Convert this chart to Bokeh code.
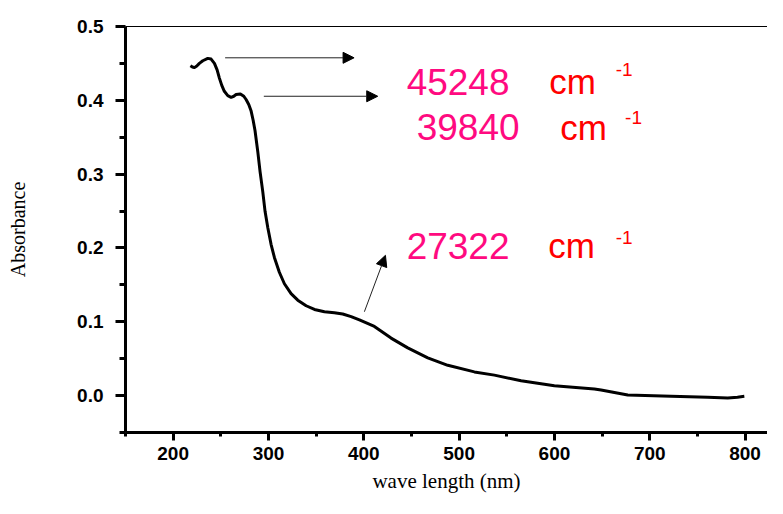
from bokeh.plotting import figure
from bokeh.models import LinearAxis, FixedTicker, Range1d, Arrow, NormalHead, Label
from bokeh.embed import file_html
from bokeh.resources import INLINE

# --- data ---
wavelength = [218.1, 220.2, 222.3, 224.8, 227.5, 231.1, 236.3, 239.8, 243.3, 246.1,
              248.5, 251.0, 253.7, 257.3, 260.8, 263.6, 266.0, 270.5, 274.1, 276.5,
              279.3, 281.8, 283.9, 285.9, 288.8, 291.2, 294.0, 296.4, 299.3, 302.7,
              306.2, 311.4, 316.7, 323.7, 330.7, 339.5, 348.2, 358.7, 369.1, 377.9,
              386.7, 395.4, 411.1, 428.6, 446.1, 467.1, 488.1, 516.0, 537.0, 565.0,
              599.9, 641.9, 648.9, 676.9, 722.3, 760.8, 781.8, 792.0, 799.2]
absorbance = [0.4469, 0.4452, 0.4443, 0.4465, 0.4501, 0.4536, 0.4568, 0.4559, 0.4501, 0.4412,
              0.4301, 0.4202, 0.4122, 0.4064, 0.4041, 0.4055, 0.4078, 0.4087, 0.4055, 0.4011,
              0.3944, 0.3854, 0.3730, 0.3587, 0.3301, 0.3031, 0.2763, 0.2496, 0.2273, 0.2050,
              0.1872, 0.1671, 0.1515, 0.1381, 0.1293, 0.1217, 0.1167, 0.1136, 0.1123, 0.1106,
              0.1070, 0.1025, 0.0936, 0.0779, 0.0646, 0.0512, 0.0410, 0.0321, 0.0277, 0.0201,
              0.0134, 0.0090, 0.0076, 0.0009, -0.0009, -0.0023, -0.0031, -0.0022, -0.0009]
x_ticks = [200, 300, 400, 500, 600, 700, 800]
x_minor = [150, 250, 350, 450, 550, 650, 750]
y_ticks = [0.0, 0.1, 0.2, 0.3, 0.4, 0.5]
y_minor = [-0.05, 0.05, 0.15, 0.25, 0.35, 0.45]
peak_labels = ["45248", "39840", "27322"]
unit_text = "cm"
exp_text = "-1"

p = figure(width=767, height=498, output_backend="svg", toolbar_location=None,
           x_range=Range1d(150, 823.5), y_range=Range1d(-0.05, 0.5),
           min_border_left=125, min_border_right=0, min_border_top=26, min_border_bottom=66,
           x_axis_label="wave length (nm)", y_axis_label="Absorbance")
p.outline_line_color = None
p.xgrid.visible = False
p.ygrid.visible = False
p.background_fill_color = "white"
p.border_fill_color = "white"

xa = p.xaxis[0]
xa.ticker = FixedTicker(ticks=x_ticks, minor_ticks=x_minor)
ya = p.yaxis[0]
ya.ticker = FixedTicker(ticks=y_ticks, minor_ticks=y_minor)
ya.major_label_overrides = {0.0: "0.0", 0.1: "0.1", 0.2: "0.2", 0.3: "0.3", 0.4: "0.4", 0.5: "0.5"}

for ax in (xa, ya):
    ax.axis_line_width = 3
    ax.axis_line_color = "black"
    ax.major_tick_line_width = 3
    ax.minor_tick_line_width = 3
    ax.major_tick_in = 0
    ax.minor_tick_in = 0
    ax.major_label_text_font = "Liberation Sans"
    ax.major_label_text_font_style = "bold"
    ax.major_label_text_font_size = "19px"
    ax.major_label_text_color = "black"
    ax.axis_label_text_font = "Liberation Serif"
    ax.axis_label_text_font_style = "normal"
    ax.axis_label_text_color = "black"

xa.major_tick_out = 8
xa.minor_tick_out = 4
xa.major_label_standoff = 6
xa.axis_label_text_font_size = "21px"
xa.axis_label_standoff = 6

ya.major_tick_out = 10
ya.minor_tick_out = 6
ya.major_label_standoff = 12
ya.axis_label_text_font_size = "20px"
ya.axis_label_standoff = 45

top = LinearAxis(ticker=FixedTicker(ticks=[]), major_tick_line_color=None,
                 minor_tick_line_color=None, major_label_text_font_size="0px",
                 axis_line_width=1, axis_line_color="black")
p.add_layout(top, "above")

p.line(wavelength, absorbance, line_width=3, line_color="black", line_join="round")

# arrows
arrows = [((254.5, 0.4576), (389.8, 0.4576)),
          ((295.1, 0.4055), (414.6, 0.4055)),
          ((400.6, 0.1136), (422.7, 0.1900))]
for (xs, ys), (xe, ye) in arrows:
    p.add_layout(Arrow(end=NormalHead(size=11, fill_color="black", line_color="black", line_width=1),
                       x_start=xs, y_start=ys, x_end=xe, y_end=ye,
                       line_width=1, line_color="#222222"))

# annotation texts
num_pos = [(498.9, 0.4251), (509.4, 0.3636), (498.9, 0.2032)]
cm_pos = [(619.0, 0.4251), (630.5, 0.3636), (617.9, 0.2032)]
exp_pos = [(673.1, 0.4412), (683.0, 0.3770), (673.1, 0.2139)]
for lab, (nx, ny), (cx, cy), (ex, ey) in zip(peak_labels, num_pos, cm_pos, exp_pos):
    p.add_layout(Label(x=nx, y=ny, text=lab, text_align="center", text_baseline="alphabetic",
                       text_font="Liberation Sans", text_font_size="37px", text_color="#ff0a80"))
    p.add_layout(Label(x=cx, y=cy, text=unit_text, text_align="center", text_baseline="alphabetic",
                       text_font="Liberation Sans", text_font_size="35px", text_color="#ff0000"))
    p.add_layout(Label(x=ex, y=ey, text=exp_text, text_align="center", text_baseline="alphabetic",
                       text_font="Liberation Sans", text_font_size="19px", text_color="#ff0000"))

open("out.html", "w").write(file_html(p, INLINE))
